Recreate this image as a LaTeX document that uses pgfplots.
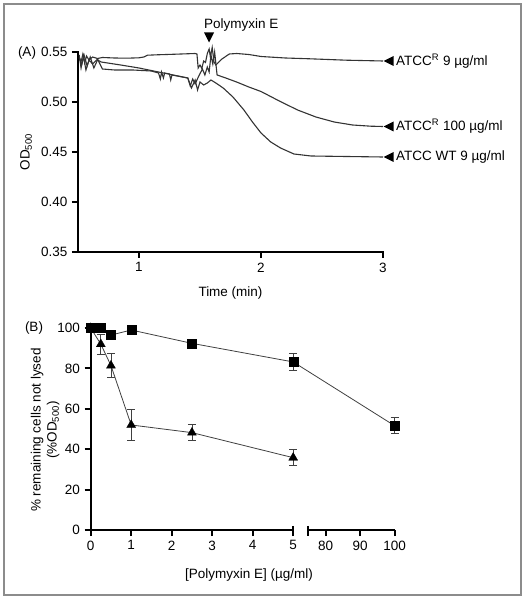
\documentclass[border=0pt]{standalone}
\usepackage{fontspec}
\setmainfont{Liberation Sans}
\usepackage{pgfplots}
\pgfplotsset{compat=1.18}
\usetikzlibrary{shapes.geometric}
\pgfplotsset{myax/.style={scale only axis, axis x line*=bottom, axis y line*=left,
  axis line style={-, line width=2pt, line cap=rect}, tick style={line width=2pt, black},
  tick align=outside, tick pos=left, major tick length=6pt,
  /pgf/number format/assume math mode=true, clip=false}}
\tikzset{larrow/.style={fill=black, isosceles triangle, isosceles triangle stretches, shape border rotate=180,
  minimum width=10pt, minimum height=10pt, inner sep=0pt, anchor=apex}}
\begin{document}
\fontsize{13.5}{16}\selectfont
\begin{tikzpicture}
\useasboundingbox (0,0) rectangle (526pt,600pt);
\draw[black!45, line width=1.5pt] (4pt,5pt) rectangle (521pt,596pt);
\node at (27pt,547pt) {(A)};
\node at (34pt,272pt) {(B)};
% ---------------- Panel A
\begin{axis}[myax, at={(78pt,348pt)}, anchor=south west, width=305pt, height=200pt,
  xmin=0.5, xmax=3, ymin=0.35, ymax=0.55,
  xtick={1,2,3}, ytick={0.35,0.40,0.45,0.50,0.55},
  yticklabel style={/pgf/number format/fixed, /pgf/number format/fixed zerofill, /pgf/number format/precision=2},
  xlabel={Time (min)}, ylabel={OD\textsubscript{500}},
  xlabel style={at={(axis description cs:0.5,-0.205)}, anchor=center},
  ylabel style={at={(axis description cs:-0.170,0.5)}, anchor=center}]
\addplot[black!80, line width=1.1pt] table {
0.51 0.545
0.525 0.540
0.54 0.548
0.555 0.539
0.57 0.546
0.59 0.542
0.62 0.545
0.66 0.5435
0.70 0.5445
0.80 0.544
0.90 0.5438
1.00 0.5442
1.04 0.5450
1.07 0.5468
1.15 0.5472
1.30 0.5478
1.46 0.5485
1.475 0.5480
1.485 0.5340
1.50 0.5370
1.515 0.5335
1.53 0.5410
1.545 0.5395
1.56 0.5485
1.575 0.5530
1.585 0.5450
1.60 0.5545
1.615 0.5400
1.63 0.5370
1.68 0.5430
1.74 0.5480
1.80 0.5485
1.90 0.5475
2.00 0.5455
2.20 0.5440
2.40 0.5432
2.70 0.5418
3.00 0.5410
};
\addplot[black!80, line width=1.1pt] table {
0.51 0.5440
0.53 0.5370
0.55 0.5470
0.575 0.5360
0.60 0.5450
0.63 0.5340
0.66 0.5420
0.69 0.5400
0.85 0.5370
1.00 0.5340
1.10 0.5315
1.20 0.5290
1.30 0.5265
1.40 0.5240
1.42 0.5160
1.44 0.5230
1.46 0.5180
1.49 0.5260
1.52 0.5330
1.54 0.5270
1.56 0.5350
1.575 0.5300
1.59 0.5470
1.605 0.5380
1.62 0.5500
1.64 0.5270
1.70 0.5245
1.80 0.5200
1.90 0.5150
2.00 0.5105
2.15 0.5010
2.30 0.4920
2.45 0.4850
2.60 0.4800
2.75 0.4770
2.90 0.4758
3.00 0.4755
};
\addplot[black!80, line width=1.1pt] table {
0.51 0.5470
0.525 0.5340
0.545 0.5460
0.565 0.5320
0.59 0.5420
0.62 0.5380
0.66 0.5430
0.70 0.5330
0.80 0.5320
0.95 0.5320
1.10 0.5310
1.16 0.5290
1.175 0.5230
1.185 0.5300
1.20 0.5240
1.21 0.5290
1.25 0.5280
1.26 0.5220
1.27 0.5270
1.40 0.5240
1.43 0.5140
1.46 0.5220
1.48 0.5120
1.50 0.5200
1.53 0.5170
1.56 0.5190
1.59 0.5220
1.63 0.5190
1.69 0.5140
1.77 0.5050
1.86 0.4920
1.93 0.4800
2.00 0.4690
2.08 0.4600
2.16 0.4540
2.27 0.4480
2.41 0.4460
2.70 0.4455
3.00 0.4450
};
\node[larrow] at (axis cs:3,0.541) {};
\node[larrow] at (axis cs:3,0.4755) {};
\node[larrow] at (axis cs:3,0.445) {};
\node[anchor=west, inner xsep=0pt, xshift=13pt] at (axis cs:3,0.541) {ATCC\textsuperscript{R} 9 µg/ml};
\node[anchor=west, inner xsep=0pt, xshift=13pt] at (axis cs:3,0.4755) {ATCC\textsuperscript{R} 100 µg/ml};
\node[anchor=west, inner xsep=0pt, xshift=13pt] at (axis cs:3,0.445) {ATCC WT 9 µg/ml};
\node[larrow, shape border rotate=-90] at (axis cs:1.574,0.559) {};
\node[anchor=west, inner xsep=0pt] at (axis cs:1.533,0.577) {Polymyxin E};
\end{axis}
% ---------------- Panel B
\begin{axis}[myax, at={(90.7pt,70pt)}, anchor=south west, width=304pt, height=202pt,
  x coord trafo/.code={\pgfmathparse{#1<6 ? #1 : 5.802+(#1-80)*0.0852}},
  xmin=0, xmax=100, ymin=0, ymax=100,
  xtick={0,1,2,3,4,5,80,90,100}, xticklabels={0,1,2,3,4,5,80,90,100},
  ytick={0,20,40,60,80,100},
  x axis line style={draw=none},
  xlabel={[Polymyxin E] (µg/ml)},
  ylabel={\% remaining cells not lysed\\(\%OD\textsubscript{500})},
  xlabel style={at={(axis description cs:0.521,-0.223)}, anchor=center},
  ylabel style={at={(axis description cs:-0.150,0.495)}, anchor=center, align=center}]
\draw[line width=2pt] (rel axis cs:0,0) -- (rel axis cs:0.6661,0);
\draw[line width=2pt] (rel axis cs:0.7162,0) -- (rel axis cs:1,0);
\draw[line width=2pt] (rel axis cs:0.6661,0) ++(0,4pt) -- ++(0,-10pt);
\draw[line width=2pt] (rel axis cs:0.7162,0) ++(0,4pt) -- ++(0,-10pt);
\addplot[black!75, line width=0.8pt, mark=triangle*, mark size=5.2pt,
  mark options={fill=black, draw=black, line width=0.3pt},
  error bars/.cd, y dir=both, y explicit,
  error bar style={line width=0.8pt, black!75},
  error mark options={rotate=90, mark size=4pt, line width=0.8pt, black!75}]
coordinates {
(0,100) +- (0,0)
(0.25,92) +- (0,5)
(0.5,81.4) +- (0,6)
(1,52) +- (0,7.5)
(2.5,48.2) +- (0,4)
(5,35.8) +- (0,4)
};
\addplot[black!75, line width=0.8pt, mark=square*, mark size=4.5pt,
  mark options={fill=black, draw=black, line width=0.3pt},
  error bars/.cd, y dir=both, y explicit,
  error bar style={line width=0.8pt, black!75},
  error mark options={rotate=90, mark size=4pt, line width=0.8pt, black!75}]
coordinates {
(0,100) +- (0,0)
(0.25,100) +- (0,0)
(0.5,96.5) +- (0,0)
(1,99) +- (0,0)
(2.5,92.4) +- (0,0)
(5,83.2) +- (0,4.3)
(100,51.6) +- (0,4)
};
\end{axis}
\end{tikzpicture}
\end{document}
